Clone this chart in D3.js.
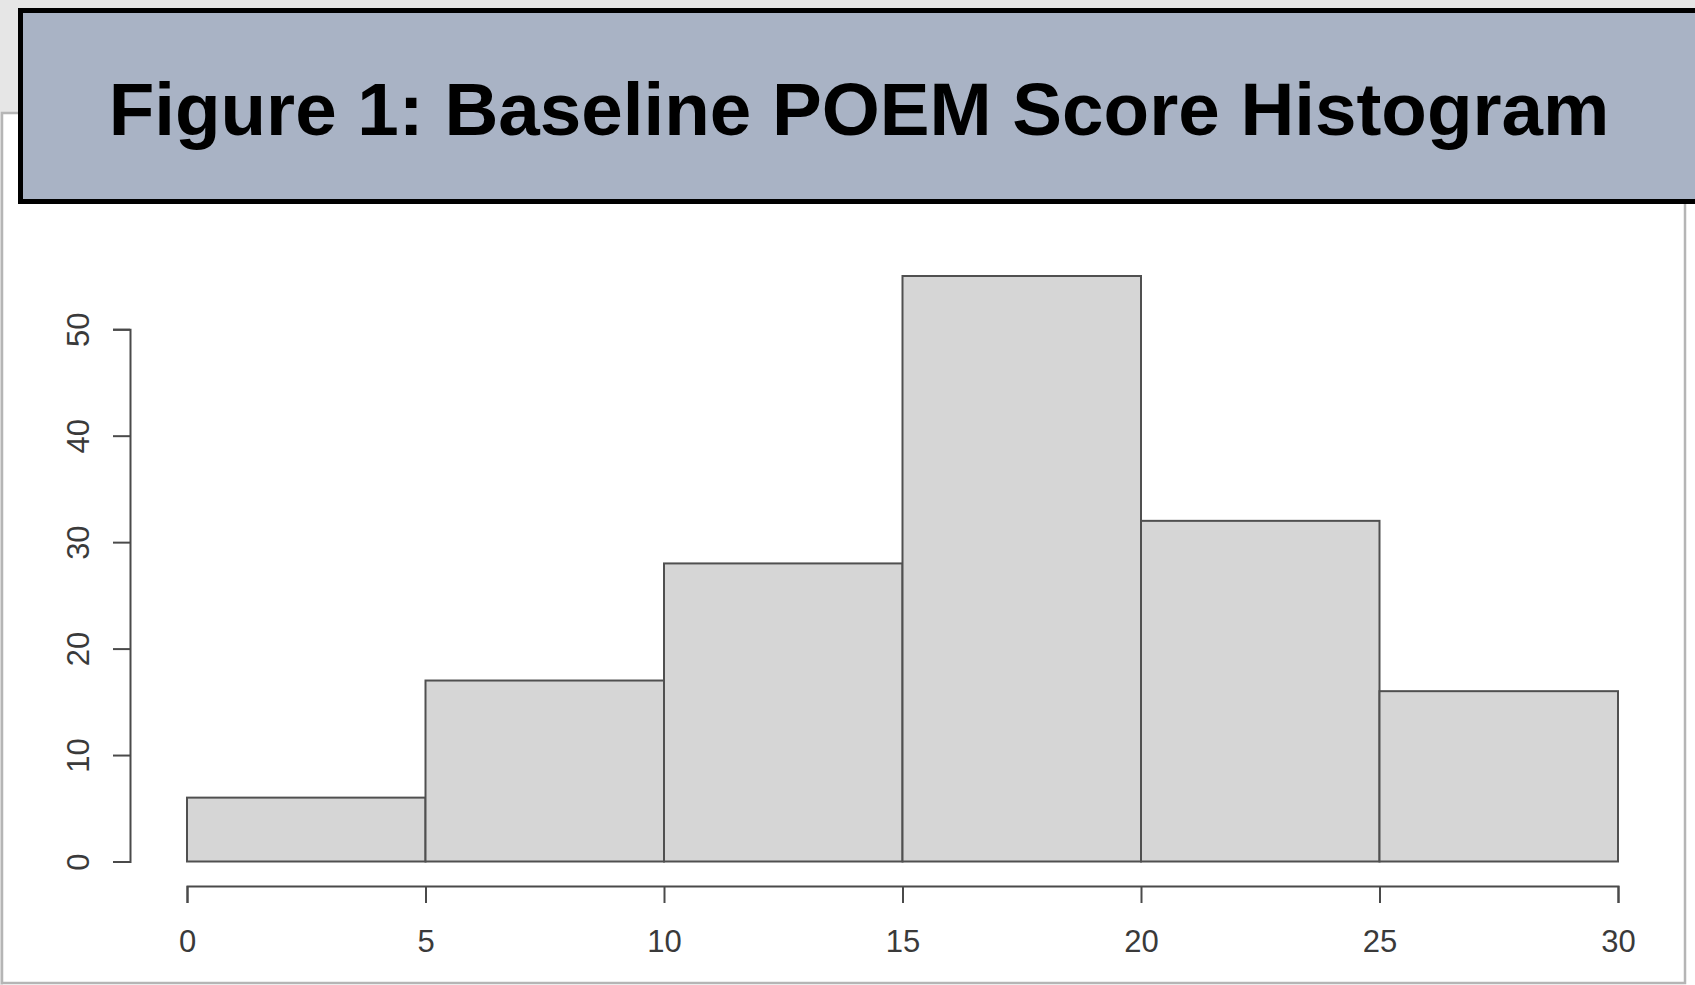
<!DOCTYPE html>
<html>
<head>
<meta charset="utf-8">
<script src="https://cdn.jsdelivr.net/npm/d3@7"></script>
<style>
  html, body { margin: 0; padding: 0; background: #ffffff; }
  svg { display: block; }
</style>
</head>
<body>
<svg id="chart" width="1695" height="985"></svg>
<script>
// ---- data ----
const title = "Figure 1: Baseline POEM Score Histogram";
const binStarts = [0, 5, 10, 15, 20, 25];
const binEnds = [5, 10, 15, 20, 25, 30];
const counts = [6, 17, 28, 55, 32, 16];
const xTicks = [0, 5, 10, 15, 20, 25, 30];
const yTicks = [0, 10, 20, 30, 40, 50];

const svg = d3.select("#chart");
const W = 1695, H = 985;

// background pieces
svg.append("rect").attr("x", 0).attr("y", 0).attr("width", W).attr("height", 113).attr("fill", "#e6e6e6");
svg.append("rect").attr("x", 0).attr("y", 113).attr("width", 3).attr("height", H - 113).attr("fill", "#e6e6e6");
svg.append("rect").attr("x", 2).attr("y", 113).attr("width", 1683).attr("height", 870)
  .attr("fill", "#ffffff").attr("stroke", "#b5b5b5").attr("stroke-width", 2.5);

// scales
const x = d3.scaleLinear().domain([0, 30]).range([187, 1618]);
const y = d3.scaleLinear().domain([0, 55]).range([861.5, 276]);
const yAxisScale = d3.scaleLinear().domain([0, 50]).range([y(0), y(50)]);

// bars
svg.append("g").selectAll("rect").data(counts).join("rect")
  .attr("x", (d, i) => x(binStarts[i]))
  .attr("y", d => y(d))
  .attr("width", (d, i) => x(binEnds[i]) - x(binStarts[i]))
  .attr("height", d => y(0) - y(d))
  .attr("fill", "#d6d6d6")
  .attr("stroke", "#505050")
  .attr("stroke-width", 2);

// x axis
const xAxisG = svg.append("g").attr("transform", "translate(0,886)")
  .call(d3.axisBottom(x).tickValues(xTicks).tickSize(17).tickSizeOuter(17).tickFormat(d3.format("d")));
xAxisG.selectAll("path, line").attr("stroke", "#4a4a4a").attr("stroke-width", 2);
xAxisG.selectAll("text")
  .attr("y", 66).attr("dy", 0)
  .attr("fill", "#3a3a3a")
  .attr("font-family", "Liberation Sans, Arial, sans-serif")
  .attr("font-size", 31);

// y axis
const yAxisG = svg.append("g").attr("transform", "translate(130,0)")
  .call(d3.axisLeft(yAxisScale).tickValues(yTicks).tickSize(17).tickSizeOuter(17).tickFormat(d3.format("d")));
yAxisG.selectAll("path, line").attr("stroke", "#4a4a4a").attr("stroke-width", 2);
yAxisG.selectAll(".tick text")
  .attr("x", null).attr("dy", 0)
  .attr("text-anchor", "middle")
  .attr("transform", "translate(-41,0) rotate(-90)")
  .attr("fill", "#3a3a3a")
  .attr("font-family", "Liberation Sans, Arial, sans-serif")
  .attr("font-size", 31);

// banner
svg.append("rect").attr("x", 20.5).attr("y", 10.5).attr("width", 1700).attr("height", 191)
  .attr("fill", "#a9b3c5").attr("stroke", "#000").attr("stroke-width", 5);
svg.append("text").attr("x", 859).attr("y", 135)
  .attr("text-anchor", "middle")
  .attr("font-family", "Liberation Sans, Arial, sans-serif")
  .attr("font-weight", "bold")
  .attr("font-size", 74.6)
  .attr("fill", "#000")
  .text(title);
</script>
</body>
</html>
